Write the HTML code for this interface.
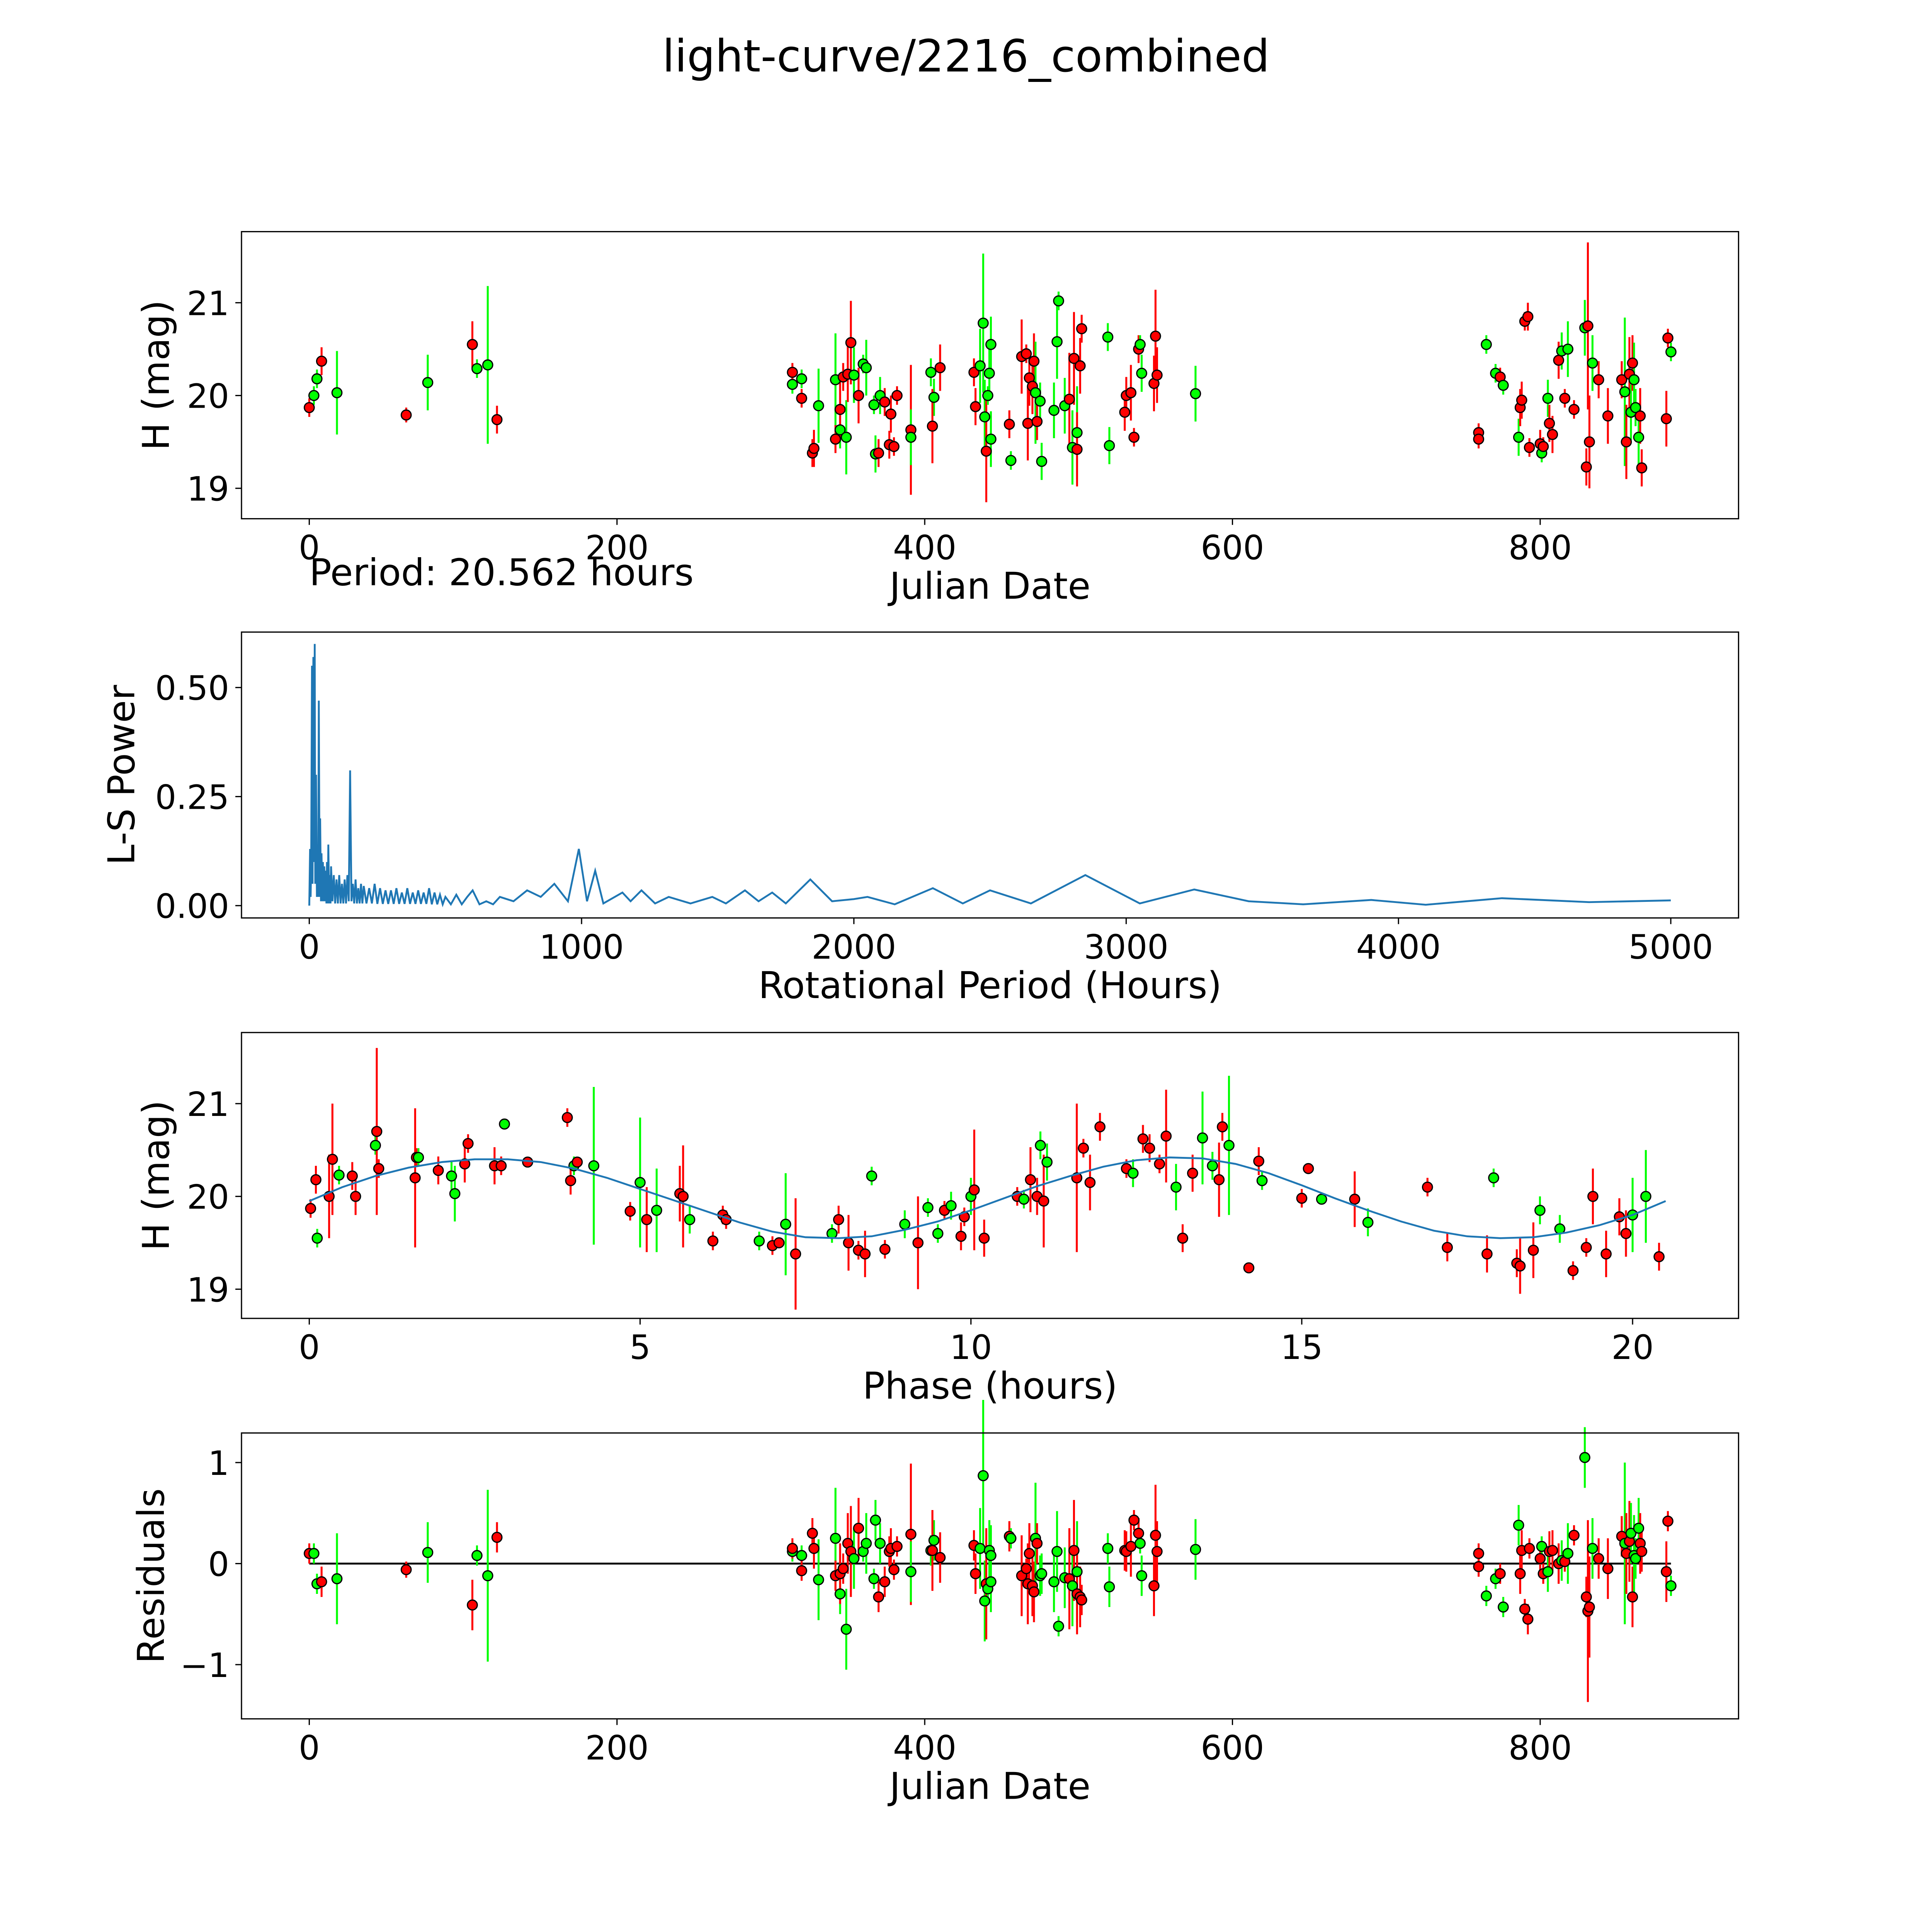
<!DOCTYPE html>
<html><head><meta charset="utf-8"><style>
html,body{margin:0;padding:0;background:#fff;overflow:hidden;width:100vw;height:100vh}
svg{display:block;width:100vw;height:100vh}
text{font-family:"DejaVu Sans","Liberation Sans",sans-serif;fill:#000}
</style></head><body>
<svg id="fig" viewBox="0 0 1568 1568" preserveAspectRatio="none" xmlns="http://www.w3.org/2000/svg">
<rect width="1568" height="1568" fill="#fff"/>
<text x="784" y="58" font-size="36" text-anchor="middle">light-curve/2216_combined</text>
<text x="251" y="475" font-size="30">Period: 20.562 hours</text>
</svg>
<script>
// ---- Panel 1 / 4 data (Julian date, magnitude, error, band) ----
const jd =  [0,3,5,8,18,63,77,106,109,116,122,314,314,320,320,327,328,331,342,342,345,345,347,349,350,352,354,357,360,362,367,368,370,371,374,377,378,380,382,391,391,404,406,405,410,432,433,436,438,439,440,441,442,443,443,455,456,463,466,467,468,470,471,472,473,475,476,484,486,487,491,494,496,497,499,499,501,502,519,520,530,531,534,536,539,540,541,549,550,551,576,760,760,765,771,774,776,786,787,788,790,792,793,800,801,802,805,806,808,812,814,816,818,822,829,830,831,832,834,838,844,853,855,856,858,859,860,861,862,864,865,866,882,883,885];
const mag = [19.87,20.0,20.18,20.37,20.03,19.79,20.14,20.55,20.29,20.33,19.74,20.12,20.25,20.18,19.97,19.38,19.43,19.89,20.17,19.53,19.63,19.85,20.2,19.55,20.23,20.57,20.22,20.0,20.34,20.3,19.9,19.37,19.38,20.0,19.93,19.47,19.8,19.45,20.0,19.63,19.55,20.25,19.98,19.67,20.3,20.25,19.88,20.32,20.78,19.77,19.4,20.0,20.24,20.55,19.53,19.69,19.3,20.42,20.45,19.7,20.19,20.1,20.37,20.03,19.72,19.94,19.29,19.84,20.58,21.02,19.89,19.96,19.44,20.4,19.6,19.42,20.32,20.72,20.63,19.46,19.82,20.0,20.03,19.55,20.5,20.55,20.24,20.13,20.64,20.22,20.02,19.6,19.53,20.55,20.24,20.2,20.11,19.55,19.87,19.95,20.8,20.85,19.44,19.48,19.38,19.45,19.97,19.7,19.58,20.38,20.48,19.97,20.5,19.85,20.73,19.23,20.75,19.5,20.35,20.17,19.78,20.17,20.04,19.5,20.23,19.82,20.35,20.17,19.87,19.55,19.78,19.22,19.75,20.62,20.47,19.22];
const err = [.1,.1,.1,.15,.45,.08,.3,.25,.1,.85,.15,.1,.1,.1,.1,.15,.2,.4,.5,.15,.2,.3,.15,.4,.3,.45,.3,.3,.1,.3,.1,.2,.15,.2,.15,.15,.2,.1,.1,.7,.3,.15,.2,.4,.25,.15,.2,.4,.75,.4,.55,.1,.3,.3,.3,.15,.1,.4,.1,.4,.3,.3,.3,.55,.2,.2,.2,.3,.4,.1,.3,.5,.4,.5,.5,.4,.3,.15,.15,.2,.2,.2,.3,.1,.15,.1,.2,.3,.5,.3,.3,.1,.1,.1,.1,.1,.1,.2,.2,.2,.1,.15,.1,.15,.1,.1,.2,.2,.2,.2,.2,.1,.3,.1,.3,.2,.9,.5,.3,.2,.3,.2,.8,.4,.4,.3,.3,.4,.2,.3,.3,.2,.3,.1,.1,.3];
const band = "rggrgrgrggrgrgrrrggrgrrgrrgrggggrgrrrrrrgggrrrrgggrggggrgrrrrrrgrggggggrgrgrrrggrrrrrggrrrgrrggrggrrrrrrgrgrrrgrgrgrrrgrrrgrrgrgggrrrrgrr";
// residuals (same order as jd)
const resid = [0.1,0.1,-0.2,-0.18,-0.15,-0.06,0.11,-0.41,0.08,-0.12,0.26,0.12,0.15,0.08,-0.07,0.3,0.15,-0.16,0.25,-0.12,-0.3,-0.1,-0.05,-0.65,0.2,0.12,0.05,0.35,0.12,0.2,-0.15,0.43,-0.33,0.2,-0.18,0.12,0.15,-0.06,0.17,0.29,-0.08,0.13,0.23,0.13,0.06,0.18,-0.1,0.15,0.87,-0.37,-0.2,-0.25,0.13,0.08,-0.18,0.27,0.25,-0.12,-0.05,-0.2,0.1,-0.22,-0.28,0.25,0.2,-0.12,-0.1,-0.18,0.12,-0.62,-0.14,-0.15,-0.22,0.13,-0.08,-0.3,-0.33,-0.36,0.15,-0.23,0.13,0.12,0.17,0.43,0.3,0.2,-0.12,-0.22,0.28,0.12,0.14,0.1,-0.03,-0.32,-0.15,-0.1,-0.43,0.38,-0.1,0.13,-0.45,-0.55,0.15,0.05,0.17,-0.1,-0.08,0.12,0.13,0.0,0.03,0.02,0.1,0.28,1.05,-0.33,-0.47,-0.43,0.15,0.05,-0.05,0.27,0.2,0.1,0.22,0.3,-0.33,0.08,0.05,0.35,0.2,0.12,-0.08,0.42,-0.22,-0.87,0.33];
// ---- Phase panel data ----
const ph = [0.02,0.1,0.12,0.3,0.35,0.45,0.65,0.7,1.0,1.02,1.05,1.6,1.62,1.65,1.95,2.15,2.2,2.35,2.4,2.8,2.9,2.95,3.3,3.9,3.95,4.0,4.05,4.3,4.85,5.0,5.1,5.25,5.6,5.65,5.75,6.1,6.25,6.3,6.8,7.0,7.1,7.2,7.35,7.9,8.0,8.15,8.3,8.4,8.5,8.7,9.0,9.2,9.35,9.5,9.6,9.7,9.85,9.9,10.0,10.05,10.2,10.7,10.8,10.9,11.0,11.05,11.1,11.15,11.6,11.7,11.8,11.95,12.35,12.45,12.6,12.7,12.85,12.95,13.1,13.2,13.35,13.5,13.65,13.75,13.8,13.9,14.2,14.35,14.4,15.0,15.1,15.3,15.8,16.0,16.9,17.2,17.8,17.9,18.25,18.3,18.5,18.6,18.9,19.1,19.3,19.4,19.6,19.8,19.9,20.0,20.2,20.4];
const phm = [19.87,20.18,19.55,20.0,20.4,20.23,20.22,20.0,20.55,20.7,20.3,20.2,20.42,20.42,20.28,20.22,20.03,20.35,20.57,20.33,20.33,20.78,20.37,20.85,20.17,20.33,20.37,20.33,19.84,20.15,19.75,19.85,20.03,20.0,19.75,19.52,19.8,19.75,19.52,19.47,19.5,19.7,19.38,19.6,19.75,19.5,19.42,19.38,20.22,19.43,19.7,19.5,19.88,19.6,19.85,19.9,19.57,19.78,20.0,20.07,19.55,20.0,19.97,20.18,20.0,20.55,19.95,20.37,20.2,20.52,20.15,20.75,20.3,20.25,20.62,20.52,20.35,20.65,20.1,19.55,20.25,20.63,20.33,20.18,20.75,20.55,19.23,20.38,20.17,19.98,20.3,19.97,19.97,19.72,20.1,19.45,19.38,20.2,19.28,19.25,19.42,19.85,19.65,19.2,19.45,20.0,19.38,19.78,19.6,19.8,20.0,19.35,19.6,20.17];
const phe = [.1,.15,.1,.45,.6,.1,.15,.2,.1,.9,.1,.75,.1,.1,.15,.15,.3,.2,.1,.2,.1,.05,.05,.1,.15,.1,.05,.85,.1,.7,.35,.45,.3,.55,.15,.1,.1,.1,.1,.1,.05,.55,.6,.1,.15,.3,.1,.25,.1,.1,.15,.5,.1,.1,.1,.15,.15,.1,.2,.65,.2,.1,.1,.35,.2,.15,.5,.2,.8,.1,.3,.15,.1,.15,.15,.15,.1,.5,.25,.15,.2,.5,.15,.4,.15,.75,.05,.15,.1,.1,.05,.05,.3,.15,.1,.15,.2,.1,.15,.3,.3,.15,.15,.1,.1,.3,.25,.2,.25,.4,.5,.15,.5,.1];
const phb = "rrgrrgrrgrrrrgrggrrrrgrrrgrgrgrgrrgrrrgrrgrgrrrrgrgrggrgrrgrrrgrrgrgrrrrrgrrrrgrrggrrgrrgrrgrgrrrgrrrggrrrrrrggrr";
// fitted curve (phase step 0.5)
const fitY = [19.95,20.1,20.22,20.31,20.37,20.4,20.4,20.37,20.3,20.2,20.08,19.96,19.84,19.72,19.62,19.56,19.55,19.57,19.64,19.73,19.85,19.98,20.11,20.22,20.32,20.39,20.42,20.41,20.35,20.25,20.12,19.98,19.85,19.73,19.63,19.57,19.55,19.56,19.61,19.69,19.8,19.95];
// ---- Periodogram data ----
const perX = [0,3,5,7,10,12,15,17,20,22,25,28,30,33,35,38,40,43,45,48,50,53,55,58,60,63,65,68,70,73,75,78,80,85,90,95,100,105,110,115,120,125,130,135,140,145,150,155,160,165,170,175,180,185,190,195,200,210,220,230,240,250,260,270,280,290,300,310,320,330,340,350,360,370,380,390,400,410,420,430,440,450,460,470,480,490,500,520,540,560,580,600,625,650,675,700,750,800,850,900,950,990,1020,1050,1080,1150,1180,1220,1270,1320,1400,1480,1530,1600,1650,1700,1750,1840,1920,2000,2050,2150,2290,2400,2500,2650,2850,3050,3250,3450,3650,3900,4100,4380,4700,5000];
const perY = [0,0.13,0.02,0.1,0.55,0.05,0.57,0.1,0.6,0.05,0.3,0.02,0.12,0.02,0.47,0.02,0.2,0.01,0.12,0.01,0.1,0.01,0.09,0.01,0.08,0.005,0.1,0.005,0.14,0.005,0.07,0.005,0.09,0.01,0.07,0.005,0.06,0.005,0.07,0.005,0.05,0.005,0.06,0.005,0.07,0.01,0.31,0.01,0.05,0.005,0.06,0.005,0.04,0.005,0.05,0.005,0.045,0.005,0.04,0.005,0.05,0.004,0.04,0.004,0.035,0.004,0.035,0.004,0.04,0.004,0.03,0.004,0.04,0.004,0.03,0.004,0.035,0.004,0.03,0.004,0.04,0.003,0.03,0.003,0.025,0.003,0.02,0.003,0.025,0.003,0.02,0.035,0.003,0.01,0.003,0.02,0.01,0.035,0.02,0.05,0.01,0.13,0.01,0.08,0.005,0.03,0.01,0.035,0.005,0.02,0.005,0.02,0.005,0.035,0.01,0.03,0.005,0.06,0.01,0.015,0.02,0.003,0.04,0.005,0.035,0.005,0.07,0.005,0.037,0.01,0.003,0.013,0.002,0.017,0.008,0.012];

const NS="http://www.w3.org/2000/svg";
const svg=document.getElementById('fig');
const TICK=27, LAB=30;
function mk(tag,attrs,parent){const e=document.createElementNS(NS,tag);for(const k in attrs)e.setAttribute(k,attrs[k]);(parent||svg).appendChild(e);return e;}
function axes(name,x0,y0,x1,y1,xs,xt,ys,yt,ytl,xlabel,ylabel,ylx){
  const g=mk('g',{});
  
  
  xt.forEach(v=>{const x=xs(v);mk('line',{x1:x,x2:x,y1:y1,y2:y1+5,stroke:'#000','stroke-width':1},g);
    const t=mk('text',{x:x,y:y1+33,'font-size':TICK,'text-anchor':'middle'},g);t.textContent=String(v).replace('-','\u2212');
    
    });
  yt.forEach((v,i)=>{const y=ys(v);mk('line',{x1:x0-5,x2:x0,y1:y,y2:y,stroke:'#000','stroke-width':1},g);
    const t=mk('text',{x:x0-10,y:y+10,'font-size':TICK,'text-anchor':'end'},g);t.textContent=ytl[i];
    
    });
  const xl=mk('text',{x:(x0+x1)/2,y:y1+65,'font-size':LAB,'text-anchor':'middle'},g);xl.textContent=xlabel;
  
  
  const cy=(y0+y1)/2;
  const yl=mk('text',{x:ylx,y:cy,'font-size':LAB,'text-anchor':'middle',transform:`rotate(-90 ${ylx} ${cy})`},g);yl.textContent=ylabel;
  
  
  return g;
}
function frame(x0,y0,x1,y1){const r=mk('rect',{x:x0,y:y0,width:x1-x0,height:y1-y0,fill:'none',stroke:'#000','stroke-width':1});
  
  }
function scatter(xs,ys,X,Y,E,B,name){
  const g=mk('g',{});
  
  
  for(let i=0;i<X.length;i++){const c=B[i]==='g'?'#00ff00':'#ff0000';const x=xs(X[i]);
    const l=mk('line',{x1:x,x2:x,y1:ys(Y[i]-E[i]),y2:ys(Y[i]+E[i]),stroke:c,'stroke-width':1.6},g);
    
    }
  for(let i=0;i<X.length;i++){const c=B[i]==='g'?'#00ff00':'#ff0000';
    const p=mk('circle',{cx:xs(X[i]),cy:ys(Y[i]),r:4,fill:c,stroke:'#000','stroke-width':1},g);
    
    }
}
// Panel 1
const jx=v=>251+v*1.24875;
const p1y=v=>321-(v-20)*75.3;
axes('light-curve-axes',196,188,1411,421,jx,[0,200,400,600,800],p1y,[19,20,21],['19','20','21'],'Julian Date','H (mag)',137);
scatter(jx,p1y,jd,mag,err,band,'light-curve-points');
frame(196,188,1411,421);
// Panel 2
const px=v=>251+v*0.221;
const py=v=>735-v*354;
axes('periodogram-axes',196,513,1411,745,px,[0,1000,2000,3000,4000,5000],py,[0,0.25,0.5],['0.00','0.25','0.50'],'Rotational Period (Hours)','L-S Power',109);
{let d='';perX.forEach((v,i)=>{d+=(i?'L':'M')+px(v).toFixed(2)+' '+py(perY[i]).toFixed(2);});
 const l=mk('path',{d:d,fill:'none',stroke:'#1f77b4','stroke-width':1.5});
 
 }
frame(196,513,1411,745);
// Panel 3
const phx=v=>251+v*53.7;
const p3y=v=>971-(v-20)*75.3;
axes('phase-axes',196,838,1411,1070,phx,[0,5,10,15,20],p3y,[19,20,21],['19','20','21'],'Phase (hours)','H (mag)',137);
scatter(phx,p3y,ph,phm,phe,phb,'phase-points');
{let d='';fitY.forEach((v,i)=>{const x=Math.min(i*0.5,20.562);d+=(i?'L':'M')+phx(x).toFixed(2)+' '+p3y(v).toFixed(2);});
 const l=mk('path',{d:d,fill:'none',stroke:'#1f77b4','stroke-width':1.5});
 
 }
frame(196,838,1411,1070);
// Panel 4
const p4y=v=>1269-v*82;
axes('residuals-axes',196,1163,1411,1395,jx,[0,200,400,600,800],p4y,[-1,0,1],['\u22121','0','1'],'Julian Date','Residuals',133);
{const l=mk('line',{x1:jx(0),x2:jx(885),y1:p4y(0),y2:p4y(0),stroke:'#000','stroke-width':1.5});
 
 }
scatter(jx,p4y,jd,resid,err,band,'residual-points');
frame(196,1163,1411,1395);
</script>
</body></html>
